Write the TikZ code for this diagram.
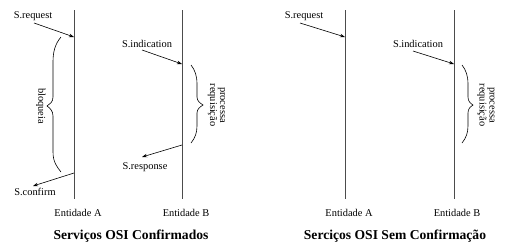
\documentclass[tikz,border=0pt]{standalone}
\usepackage{fontspec}
\setmainfont{Liberation Serif}
\usetikzlibrary{arrows.meta}
\begin{document}
\begin{tikzpicture}[x=1pt,y=-1pt,
  lifeline/.style={draw=black!70,line width=0.8pt},
  msg/.style={draw=black,line width=0.6pt,-{Stealth[length=5pt,width=3.5pt]}},
  bracepath/.style={draw=black,line width=0.6pt},
  lbl/.style={font=\fontsize{10.4}{10}\selectfont,inner sep=0pt},
  ttl/.style={font=\fontsize{13.6}{14}\selectfont\bfseries,inner sep=0pt}]
\useasboundingbox (0,0) rectangle (512,247);

% ---- confirmed service ----
\coordinate (LAtop) at (74,10);  \coordinate (LAbot) at (74,199);
\coordinate (LBtop) at (182,10); \coordinate (LBbot) at (182,199);
\draw[lifeline] (LAtop) -- (LAbot);
\draw[lifeline] (LBtop) -- (LBbot);

\node[lbl] (reqL) at (33,16) {S.request};
\node[lbl] (indL) at (147,44) {S.indication};
\node[lbl] (resL) at (145,167) {S.response};
\node[lbl] (cnfL) at (35,192) {S.confirm};

\coordinate (reqLs) at (34,23);   \coordinate (reqLe) at (74,37);
\coordinate (indLs) at (142,50);  \coordinate (indLe) at (182,64);
\coordinate (resLs) at (182,145); \coordinate (resLe) at (142,157);
\coordinate (cnfLs) at (74,173);  \coordinate (cnfLe) at (33,186);
\draw[msg] (reqLs) -- (reqLe);
\draw[msg] (indLs) -- (indLe);
\draw[msg] (resLs) -- (resLe);
\draw[msg] (cnfLs) -- (cnfLe);

% blocking interval at entity A
\draw[bracepath] (61,37) .. controls (55,44) and (53,52) .. (53,62) -- (53,97)
  .. controls (53,102) and (50,104) .. (47,106)
  .. controls (50,108) and (53,111) .. (53,116) -- (53,152)
  .. controls (53,162) and (57,167) .. (61,172);
\node[lbl,rotate=-90] (blq) at (41,106) {bloqueia};

% processing interval at entity B
\draw[bracepath] (191,65) .. controls (195,70) and (197,76) .. (197,84) -- (197,97)
  .. controls (197,101) and (200,103) .. (203,105)
  .. controls (200,107) and (197,109) .. (197,113) -- (197,126)
  .. controls (197,133) and (195,138) .. (191,143);
\node[lbl,rotate=-90,align=center] (prcL) at (216.5,105) {processa\\requisição};

\node[lbl] (entAL) at (78,213) {Entidade A};
\node[lbl] (entBL) at (186,213) {Entidade B};
\node[ttl] (ttlL) at (131,236) {Serviços OSI Confirmados};

% ---- unconfirmed service ----
\coordinate (RAtop) at (345,10); \coordinate (RAbot) at (345,199);
\coordinate (RBtop) at (454,10); \coordinate (RBbot) at (454,199);
\draw[lifeline] (RAtop) -- (RAbot);
\draw[lifeline] (RBtop) -- (RBbot);

\node[lbl] (reqR) at (304,16) {S.request};
\node[lbl] (indR) at (418,44) {S.indication};

\coordinate (reqRs) at (300,23);  \coordinate (reqRe) at (345,37);
\coordinate (indRs) at (413,51);  \coordinate (indRe) at (454,64);
\draw[msg] (reqRs) -- (reqRe);
\draw[msg] (indRs) -- (indRe);

\draw[bracepath] (462,65) .. controls (466,70) and (468,76) .. (468,84) -- (468,97)
  .. controls (468,101) and (470,103) .. (473,105)
  .. controls (470,107) and (468,109) .. (468,113) -- (468,126)
  .. controls (468,133) and (466,138) .. (462,143);
\node[lbl,rotate=-90,align=center] (prcR) at (486,105) {processa\\requisição};

\node[lbl] (entAR) at (349,213) {Entidade A};
\node[lbl] (entBR) at (457,213) {Entidade B};
\node[ttl] (ttlR) at (395,236) {Serciços OSI Sem Confirmação};
\end{tikzpicture}
\end{document}
